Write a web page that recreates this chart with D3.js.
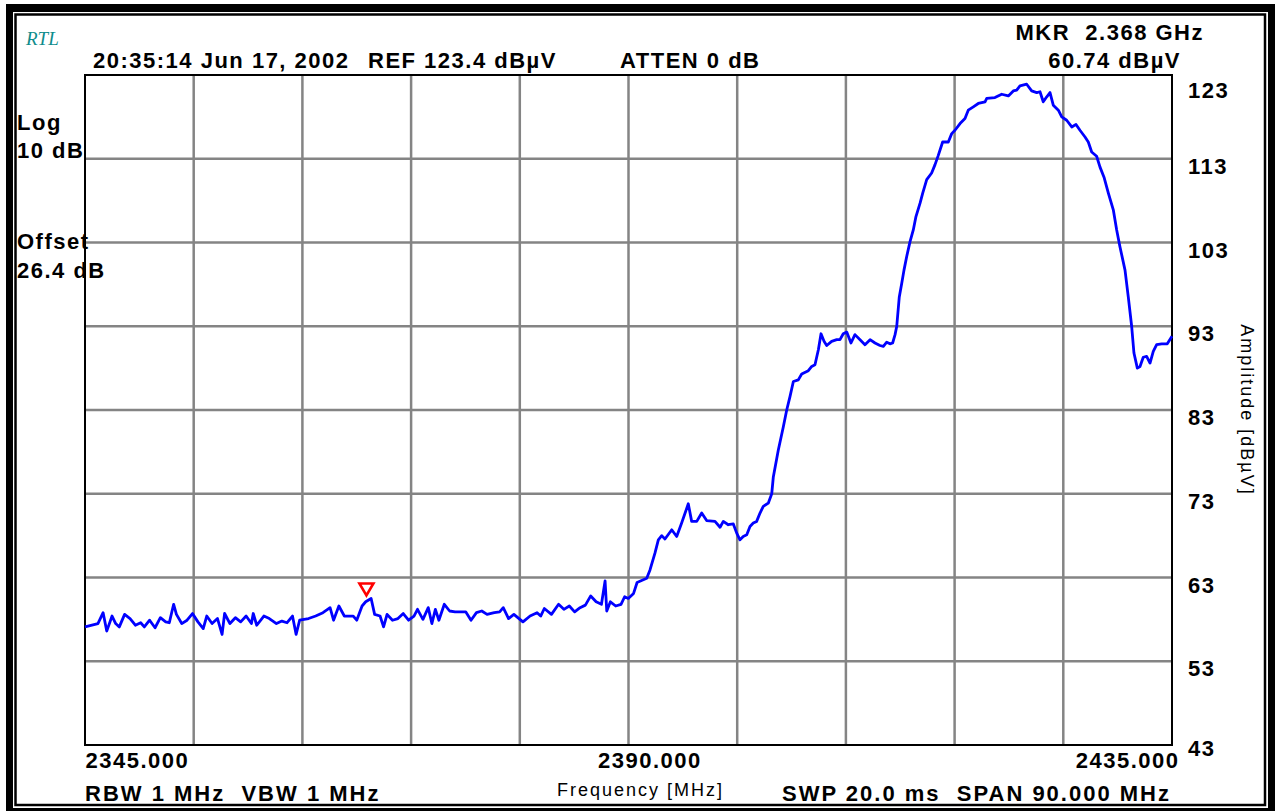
<!DOCTYPE html>
<html>
<head>
<meta charset="utf-8">
<script src="https://cdn.jsdelivr.net/npm/d3@7"></script>
<style>
  body { margin: 0; background: #fff; }
  text { font-family: "Liberation Sans", Arial, sans-serif; white-space: pre; }
  .lbl { font-size: 22px; font-weight: bold; letter-spacing: 1.5px; fill: #000; }
  .foot { letter-spacing: 2px; }
  .reg { font-size: 18px; letter-spacing: 2px; fill: #000; }
</style>
</head>
<body>
<div id="chart"></div>
<script>
// trace (MHz, dBuV)
const traceFreq = [
  2345.0, 2346.07, 2346.5, 2346.8, 2347.24, 2347.54, 2347.84, 2348.28, 2348.73, 2349.17,
  2349.61, 2349.91, 2350.35, 2350.8, 2351.24, 2351.68, 2351.98, 2352.34, 2352.57, 2353.01,
  2353.45, 2353.9, 2354.35, 2354.79, 2355.08, 2355.52, 2355.97, 2356.35, 2356.56, 2357.0,
  2357.45, 2357.89, 2358.34, 2358.78, 2358.93, 2359.22, 2359.81, 2360.26, 2360.85, 2361.3,
  2361.73, 2362.18, 2362.48, 2362.77, 2363.51, 2364.1, 2364.7, 2365.29, 2365.58, 2366.02,
  2366.47, 2367.21, 2367.5, 2367.94, 2368.24, 2368.69, 2368.98, 2369.43, 2369.72, 2370.01,
  2370.46, 2370.91, 2371.35, 2371.79, 2372.24, 2372.53, 2372.98, 2373.42, 2373.72, 2374.01,
  2374.3, 2374.75, 2375.19, 2375.64, 2376.52, 2376.96, 2377.41, 2377.85, 2378.29, 2378.89,
  2379.33, 2379.63, 2380.07, 2380.51, 2381.26, 2381.85, 2382.43, 2382.73, 2383.03, 2383.62,
  2384.21, 2384.65, 2385.1, 2385.54, 2385.99, 2386.43, 2386.87, 2387.32, 2387.76, 2388.06,
  2388.2, 2388.5, 2388.94, 2389.38, 2389.68, 2389.98, 2390.42, 2390.71, 2391.51, 2391.78,
  2392.19, 2392.47, 2392.75, 2393.02, 2393.58, 2393.99, 2394.4, 2394.95, 2395.23, 2395.65,
  2396.06, 2396.47, 2397.16, 2397.58, 2397.85, 2398.26, 2398.68, 2398.96, 2399.23, 2399.5,
  2399.79, 2400.06, 2400.33, 2400.61, 2400.89, 2401.16, 2401.58, 2401.86, 2401.99, 2402.4,
  2402.82, 2403.1, 2403.37, 2403.65, 2404.06, 2404.34, 2404.89, 2405.17, 2405.44, 2405.72,
  2405.94, 2406.19, 2406.41, 2406.82, 2407.24, 2407.51, 2407.78, 2408.07, 2408.42, 2408.75,
  2409.17, 2409.58, 2410.0, 2410.41, 2410.82, 2411.1, 2411.38, 2411.65, 2411.87, 2412.07,
  2412.21, 2412.42, 2412.62, 2412.81, 2413.03, 2413.31, 2413.58, 2413.8, 2414.14, 2414.36,
  2414.69, 2415.1, 2415.38, 2415.65, 2416.01, 2416.48, 2416.76, 2417.03, 2417.45, 2417.86,
  2418.13, 2418.55, 2418.96, 2419.52, 2419.66, 2420.34, 2420.9, 2421.45, 2421.86, 2422.14,
  2422.41, 2422.97, 2423.38, 2423.8, 2424.07, 2424.34, 2424.63, 2424.9, 2425.17, 2425.59,
  2425.87, 2426.28, 2426.7, 2427.05, 2427.38, 2427.8, 2428.07, 2428.35, 2428.76, 2429.04,
  2429.37, 2429.73, 2430.14, 2430.42, 2430.69, 2431.11, 2431.38, 2431.66, 2431.85, 2432.13,
  2432.35, 2432.62, 2432.9, 2433.18, 2433.45, 2433.73, 2434.15, 2434.61, 2435.0
];
const traceAmp = [
  57.1, 57.5, 58.8, 56.6, 58.4, 57.5, 57.1, 58.6, 58.1, 57.3,
  57.6, 57.1, 57.9, 57.0, 58.2, 57.7, 57.6, 59.8, 58.6, 57.5,
  57.9, 58.7, 57.7, 56.9, 58.4, 57.5, 58.1, 56.2, 58.7, 57.5,
  58.2, 57.7, 58.4, 57.5, 58.7, 57.3, 58.4, 58.1, 57.5, 57.8,
  57.6, 58.4, 56.2, 57.9, 58.1, 58.4, 58.8, 59.4, 57.9, 59.6,
  58.4, 58.4, 57.9, 59.6, 60.1, 60.5, 58.6, 58.4, 57.1, 58.6,
  57.9, 58.1, 58.7, 57.9, 58.4, 59.2, 58.0, 59.4, 57.5, 59.2,
  57.9, 59.8, 59.0, 58.9, 58.9, 57.9, 58.8, 59.0, 58.6, 58.8,
  58.9, 59.4, 58.1, 58.6, 57.7, 58.4, 58.8, 58.4, 59.3, 58.6,
  59.8, 59.2, 59.6, 58.9, 59.4, 59.7, 60.8, 60.1, 59.8, 62.6,
  59.0, 60.1, 59.6, 59.8, 60.7, 60.5, 61.1, 62.4, 62.9, 63.9,
  65.9, 67.5, 68.0, 67.6, 68.7, 67.9, 69.5, 71.8, 69.7, 69.7,
  70.7, 69.8, 69.7, 69.0, 69.7, 69.3, 69.4, 68.3, 67.5, 67.9,
  68.1, 69.1, 69.5, 69.7, 70.7, 71.5, 71.9, 73.0, 75.0, 78.2,
  81.0, 83.0, 84.6, 86.4, 86.6, 87.3, 87.7, 88.2, 88.4, 90.2,
  92.1, 91.2, 90.7, 91.2, 91.4, 91.4, 92.1, 92.3, 91.0, 92.0,
  91.4, 90.8, 91.4, 91.0, 90.7, 90.6, 91.1, 90.9, 91.0, 92.0,
  93.0, 96.5, 98.1, 99.7, 101.3, 103.1, 104.5, 106.1, 107.7, 108.9,
  110.5, 111.3, 112.3, 113.4, 115.0, 115.0, 116.0, 116.4, 117.2, 117.8,
  118.8, 119.2, 119.6, 119.8, 120.2, 120.3, 120.7, 120.5, 121.1, 121.2,
  121.7, 121.9, 121.1, 120.9, 121.0, 119.8, 120.4, 120.9, 119.4, 118.8,
  118.0, 117.6, 116.8, 117.1, 116.4, 115.6, 115.0, 113.8, 113.3, 112.0,
  110.8, 108.9, 106.9, 104.5, 102.5, 99.7, 96.5, 93.0, 89.8, 88.0,
  88.2, 89.3, 89.4, 88.6, 90.0, 90.8, 90.9, 90.9, 91.8
];

const yTicks = [123, 113, 103, 93, 83, 73, 63, 53, 43];
const xTicks = [2345, 2390, 2435];
const startFreq = 2345, stopFreq = 2435;
const markerFreq = 2368.3;
const markerAmp = 60.74;

const headerLeft = ["20:35:14 Jun 17, 2002", "REF 123.4 dBµV", "ATTEN 0 dB"];
const sideNotes = ["Log", "10 dB", "Offset", "26.4 dB"];
const footer = ["RBW 1 MHz  VBW 1 MHz", "Frequency [MHz]", "SWP 20.0 ms  SPAN 90.000 MHz"];

const W = 1275, H = 811;
const margin = {top: 75, right: 103, bottom: 66, left: 85},
  width = W - margin.left - margin.right,
  height = H - margin.top - margin.bottom;

const svg = d3.select('#chart')
  .append('svg')
  .attr('width', W)
  .attr('height', H);

// double frame
svg.append('rect').attr('x', 6).attr('y', 4).attr('width', W - 6).attr('height', H - 4).attr('fill', '#000');
svg.append('rect').attr('x', 13).attr('y', 12).attr('width', 1268 - 13).attr('height', 808 - 12).attr('fill', '#fff');
svg.append('rect').attr('x', 15.5).attr('y', 14.5).attr('width', 1265 - 15.5).attr('height', 805 - 14.5)
  .attr('fill', 'none').attr('stroke', '#000').attr('stroke-width', 2.5);

const x = d3.scaleLinear().domain([startFreq, stopFreq]).range([0, width]);
const y = d3.scaleLinear().domain([43, 123]).range([height, 0]);

const g = svg.append('g')
  .attr('transform', 'translate(' + margin.left + ',' + margin.top + ')');

// graticule, 10 x 8 divisions
const grid = g.append('g');
grid.selectAll('line.v')
  .data(d3.range(1, 10))
  .enter().append('line')
  .attr('x1', d => width * d / 10).attr('x2', d => width * d / 10)
  .attr('y1', 0).attr('y2', height)
  .attr('stroke', '#848484').attr('stroke-width', 2.5);
grid.selectAll('line.h')
  .data(yTicks.slice(1, -1))
  .enter().append('line')
  .attr('x1', 0).attr('x2', width)
  .attr('y1', d => y(d)).attr('y2', d => y(d))
  .attr('stroke', '#848484').attr('stroke-width', 2.5);

g.append('rect')
  .attr('width', width).attr('height', height)
  .attr('fill', 'none').attr('stroke', '#000').attr('stroke-width', 2);

// trace
const pts = traceFreq.map((f, i) => [f, traceAmp[i]]);
const line = d3.line().x(d => x(d[0])).y(d => y(d[1]));
g.append('path')
  .datum(pts)
  .attr('d', line)
  .attr('fill', 'none')
  .attr('stroke', '#0000ff')
  .attr('stroke-width', 2.8)
  .attr('stroke-linejoin', 'round');

// marker
const mx = x(markerFreq), my = y(markerAmp);
g.append('path')
  .attr('d', 'M' + mx + ',' + (my - 1) + 'L' + (mx - 7) + ',' + (my - 13) + 'L' + (mx + 7) + ',' + (my - 13) + 'Z')
  .attr('fill', '#fff')
  .attr('stroke', '#ff0000')
  .attr('stroke-width', 2.6);

// right amplitude axis
const yAxis = g.append('g')
  .attr('transform', 'translate(' + width + ',0)')
  .call(d3.axisRight(y).tickValues(yTicks).tickSize(0).tickPadding(16));
yAxis.select('.domain').remove();
yAxis.selectAll('text')
  .attr('class', 'lbl')
  .attr('font-family', null).attr('font-size', null)
  .attr('dy', null)
  .attr('y', d => Math.min(Math.max(y(d) + 7, 15), height + 3) - y(d))
  .attr('dominant-baseline', 'central');

// bottom frequency labels
const xAxis = g.append('g')
  .attr('transform', 'translate(0,' + height + ')')
  .call(d3.axisBottom(x).tickValues(xTicks).tickSize(0).tickPadding(0).tickFormat(d3.format('.3f')));
xAxis.select('.domain').remove();
xAxis.selectAll('text')
  .attr('class', 'lbl')
  .attr('font-family', null).attr('font-size', null)
  .attr('dy', null)
  .attr('y', 23)
  .attr('text-anchor', (d, i) => i === 2 ? 'end' : 'start')
  .attr('x', (d, i) => i === 1 ? -31 : (i === 2 ? 7 : 0));

// header texts
svg.append('text').attr('x', 26).attr('y', 45)
  .style('font-family', '"Liberation Serif", serif').style('font-style', 'italic')
  .style('font-size', '19px').attr('fill', '#0e8c8c').text('RTL');
svg.append('text').attr('class', 'lbl').attr('x', 93).attr('y', 68).text(headerLeft[0]);
svg.append('text').attr('class', 'lbl').attr('x', 368).attr('y', 68).text(headerLeft[1]);
svg.append('text').attr('class', 'lbl').attr('x', 620).attr('y', 68).text(headerLeft[2]);
svg.append('text').attr('class', 'lbl').attr('x', 1204).attr('y', 40).attr('text-anchor', 'end')
  .text('MKR  ' + d3.format('.3f')(markerFreq / 1000) + ' GHz');
svg.append('text').attr('class', 'lbl').attr('x', 1181).attr('y', 68).attr('text-anchor', 'end')
  .text(d3.format('.2f')(markerAmp) + ' dBµV');

// left notes
const noteY = [130, 158, 249, 278];
sideNotes.forEach((t, i) => {
  svg.append('text').attr('class', 'lbl').attr('x', 17).attr('y', noteY[i]).text(t);
});

// footer
svg.append('text').attr('class', 'lbl foot').attr('x', 85).attr('y', 801).text(footer[0]);
svg.append('text').attr('class', 'reg').attr('x', 557).attr('y', 796).text(footer[1]);
svg.append('text').attr('class', 'lbl foot').attr('x', 1171).attr('y', 801).attr('text-anchor', 'end').text(footer[2]);

// amplitude title, rotated clockwise
svg.append('text').attr('class', 'reg')
  .attr('transform', 'translate(1241,410) rotate(90)')
  .attr('text-anchor', 'middle')
  .text('Amplitude [dBµV]');
</script>
</body>
</html>
